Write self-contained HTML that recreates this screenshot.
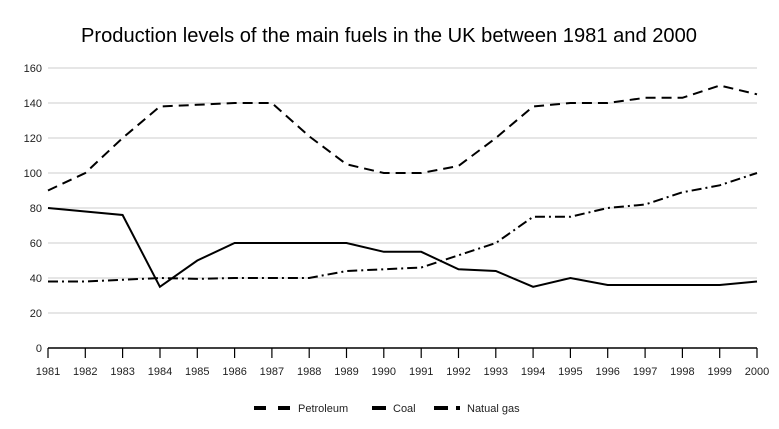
<!DOCTYPE html>
<html><head><style>body{margin:0;background:#fff}svg{display:block}</style></head><body>
<svg width="779" height="429" xmlns="http://www.w3.org/2000/svg" font-family="Liberation Sans, Arial, sans-serif">
<rect width="779" height="429" fill="#fff"/>
<text x="389" y="42" text-anchor="middle" font-size="20" fill="#000" textLength="616" lengthAdjust="spacingAndGlyphs">Production levels of the main fuels in the UK between 1981 and 2000</text>
<g stroke="#ccc" stroke-width="1">
<line x1="48" x2="757" y1="313" y2="313"/><line x1="48" x2="757" y1="278" y2="278"/>
<line x1="48" x2="757" y1="243" y2="243"/><line x1="48" x2="757" y1="208" y2="208"/>
<line x1="48" x2="757" y1="173" y2="173"/><line x1="48" x2="757" y1="138" y2="138"/>
<line x1="48" x2="757" y1="103" y2="103"/><line x1="48" x2="757" y1="68" y2="68"/>
</g>
<g font-size="11" fill="#222" text-anchor="end">
<text x="42" y="352">0</text><text x="42" y="317">20</text><text x="42" y="282">40</text><text x="42" y="247">60</text>
<text x="42" y="212">80</text><text x="42" y="177">100</text><text x="42" y="142">120</text><text x="42" y="107">140</text><text x="42" y="72">160</text>
</g>
<line x1="48" x2="757" y1="348" y2="348" stroke="#000" stroke-width="1.5"/>
<g stroke="#000" stroke-width="1.2">
<line x1="48" x2="48" y1="348" y2="358"/><line x1="85.3" x2="85.3" y1="348" y2="358"/><line x1="122.6" x2="122.6" y1="348" y2="358"/><line x1="160" x2="160" y1="348" y2="358"/><line x1="197.3" x2="197.3" y1="348" y2="358"/><line x1="234.6" x2="234.6" y1="348" y2="358"/><line x1="271.9" x2="271.9" y1="348" y2="358"/><line x1="309.2" x2="309.2" y1="348" y2="358"/><line x1="346.5" x2="346.5" y1="348" y2="358"/><line x1="383.8" x2="383.8" y1="348" y2="358"/><line x1="421.2" x2="421.2" y1="348" y2="358"/><line x1="458.5" x2="458.5" y1="348" y2="358"/><line x1="495.8" x2="495.8" y1="348" y2="358"/><line x1="533.1" x2="533.1" y1="348" y2="358"/><line x1="570.4" x2="570.4" y1="348" y2="358"/><line x1="607.7" x2="607.7" y1="348" y2="358"/><line x1="645.1" x2="645.1" y1="348" y2="358"/><line x1="682.4" x2="682.4" y1="348" y2="358"/><line x1="719.7" x2="719.7" y1="348" y2="358"/><line x1="757" x2="757" y1="348" y2="358"/>
</g>
<g font-size="11" fill="#222" text-anchor="middle">
<text x="48" y="375">1981</text><text x="85.3" y="375">1982</text><text x="122.6" y="375">1983</text><text x="160" y="375">1984</text><text x="197.3" y="375">1985</text><text x="234.6" y="375">1986</text><text x="271.9" y="375">1987</text><text x="309.2" y="375">1988</text><text x="346.5" y="375">1989</text><text x="383.8" y="375">1990</text><text x="421.2" y="375">1991</text><text x="458.5" y="375">1992</text><text x="495.8" y="375">1993</text><text x="533.1" y="375">1994</text><text x="570.4" y="375">1995</text><text x="607.7" y="375">1996</text><text x="645.1" y="375">1997</text><text x="682.4" y="375">1998</text><text x="719.7" y="375">1999</text><text x="757" y="375">2000</text>
</g>
<polyline id="p" fill="none" stroke="#000" stroke-width="2" stroke-dasharray="10,6"/>
<polyline id="c" fill="none" stroke="#000" stroke-width="2"/>
<polyline id="g" fill="none" stroke="#000" stroke-width="2" stroke-dasharray="10,4,2,4"/>
<g stroke="#000" stroke-width="4">
<line x1="254" x2="266" y1="408" y2="408"/><line x1="278" x2="290" y1="408" y2="408"/>
<line x1="372" x2="386" y1="408" y2="408"/>
<line x1="434" x2="448" y1="408" y2="408"/><line x1="456" x2="460" y1="408" y2="408"/>
</g>
<g font-size="11" fill="#222"><text x="298" y="412">Petroleum</text><text x="393" y="412">Coal</text><text x="467" y="412">Natual gas</text></g>
<script>
var P=[90,100,120,138,139,140,140,121,105,100,100,104,120,138,140,140,143,143,150,145];
var C=[80,78,76,35,50,60,60,60,60,55,55,45,44,35,40,36,36,36,36,38];
var G=[38,38,39,40,39.5,40,40,40,44,45,46,53,60,75,75,80,82,89,93,100];
function X(i){return 48+i*709/19}function Y(v){return 348-v*1.75}
function pts(a){return a.map(function(v,i){return X(i).toFixed(1)+","+Y(v).toFixed(1)}).join(" ")}
document.getElementById('p').setAttribute('points',pts(P));
document.getElementById('c').setAttribute('points',pts(C));
document.getElementById('g').setAttribute('points',pts(G));
</script>
</svg>
</body></html>
